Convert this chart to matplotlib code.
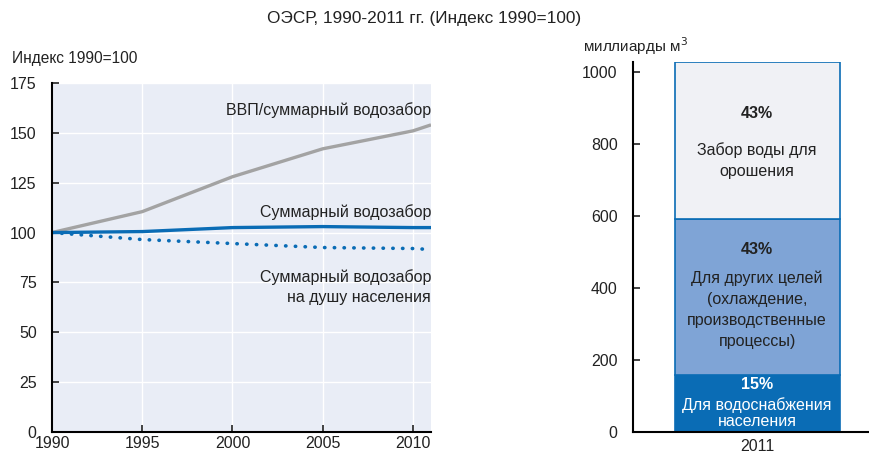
import matplotlib
matplotlib.use("Agg")
import matplotlib.pyplot as plt
from matplotlib import font_manager

# Index series, 1990 = 100
years = [1990, 1995, 2000, 2005, 2010, 2011]
gdp_per_withdrawal = [100, 110.5, 128, 142, 151, 154]
total_withdrawal = [100, 100.5, 102.5, 103, 102.5, 102.5]
per_capita_withdrawal = [100, 96.5, 94.5, 92.5, 92, 91.5]

# Withdrawal by use in 2011, billion m3
bar_year = "2011"
use_labels = ["Для водоснабжения\nнаселения",
              "Для других целей\n(охлаждение,\nпроизводственные\nпроцессы)",
              "Забор воды для\nорошения"]
use_values = [157, 435, 436]
use_shares = ["15%", "43%", "43%"]

names = {f.name for f in font_manager.fontManager.ttflist}
FONT = "Liberation Sans Narrow" if "Liberation Sans Narrow" in names else "Liberation Sans"
plt.rcParams["font.family"] = [FONT, "DejaVu Sans"]

W, H = 870, 455
fig = plt.figure(figsize=(W / 100, H / 100), dpi=100)
TXT = "#222222"
BLUE = "#0a6cb5"


def px_axes(x0, y0, x1, y1):
    return fig.add_axes([x0 / W, 1 - y1 / H, (x1 - x0) / W, (y1 - y0) / H])


fig.text(424 / W, 1 - 19 / H, "ОЭСР, 1990-2011 гг. (Индекс 1990=100)",
         ha="center", va="center", fontsize=12.4, color=TXT,
         family=["Liberation Sans", "DejaVu Sans"])

# --- left: index lines ---
ax = px_axes(52, 83, 431, 432)
ax.set_facecolor("#e9edf6")
ax.plot(years, gdp_per_withdrawal, color="#a3a3a3", lw=2.4, solid_capstyle="butt")
ax.plot(years, total_withdrawal, color=BLUE, lw=2.4, solid_capstyle="butt")
ax.plot(years, per_capita_withdrawal, color=BLUE, lw=2.6, linestyle=(0, (0.1, 2.6)),
        dash_capstyle="round")
ax.set_xlim(1990, 2011)
ax.set_ylim(0, 175)
ax.set_xticks([1990, 1995, 2000, 2005, 2010])
ax.set_yticks(range(0, 176, 25))
ax.grid(True, color="white", lw=1)
ax.set_axisbelow(True)
for s in ("top", "right"):
    ax.spines[s].set_visible(False)
for s in ("left", "bottom"):
    ax.spines[s].set_linewidth(1.5)
ax.tick_params(direction="in", length=5, width=1.2, labelsize=11.5, colors=TXT)
ax.tick_params(axis="y", pad=11)
ax.tick_params(axis="x", pad=3)

ax.text(2011, 161.5, "ВВП/суммарный водозабор", ha="right", va="center",
        fontsize=11.5, color=TXT)
ax.text(2011, 110.5, "Суммарный водозабор", ha="right", va="center",
        fontsize=11.5, color=TXT)
ax.text(2011, 72.5, "Суммарный водозабор\nна душу населения", ha="right", va="center",
        fontsize=11.5, color=TXT, linespacing=1.4)
fig.text(12 / W, 1 - 58 / H, "Индекс 1990=100", ha="left", va="center",
         fontsize=11.2, color=TXT)

# --- right: stacked bar ---
bx = px_axes(633, 62, 870, 432)
colors = [BLUE, "#7fa4d6", "#f0f1f5"]
# offsets below each segment top: share label, centre of the text block
share_off = [26, 86, 142]
label_off = [104, 253, 273]
spacing = [1.05, 1.5, 1.5]
bottom = 0
for i, (val, col, lab, share) in enumerate(zip(use_values, colors, use_labels, use_shares)):
    bx.bar(0, val, width=1.0, bottom=bottom, color=col,
           edgecolor=BLUE, linewidth=1.2)
    top = bottom + val
    tcol = "white" if col == BLUE else TXT
    bx.text(0, top - share_off[i], share, ha="center", va="center",
            fontsize=11.5, fontweight="bold", color=tcol)
    bx.text(0, top - label_off[i], lab, ha="center", va="center",
            fontsize=11.5, color=tcol, linespacing=spacing[i])
    bottom = top
bx.set_xlim(-0.752, 0.684)
bx.set_ylim(0, 1028)
bx.set_yticks(range(0, 1001, 200))
bx.set_xticks([0])
bx.set_xticklabels([bar_year])
for s in ("top", "right"):
    bx.spines[s].set_visible(False)
for s in ("left", "bottom"):
    bx.spines[s].set_linewidth(1.5)
bx.tick_params(direction="in", length=5, width=1.2, labelsize=11.5, colors=TXT)
bx.tick_params(axis="y", pad=11)
bx.tick_params(axis="x", length=0, pad=5)
fig.text(583 / W, 1 - 46 / H, "миллиарды м$^3$", ha="left", va="center",
         fontsize=11, color=TXT)

fig.savefig("out.png", dpi=100)
